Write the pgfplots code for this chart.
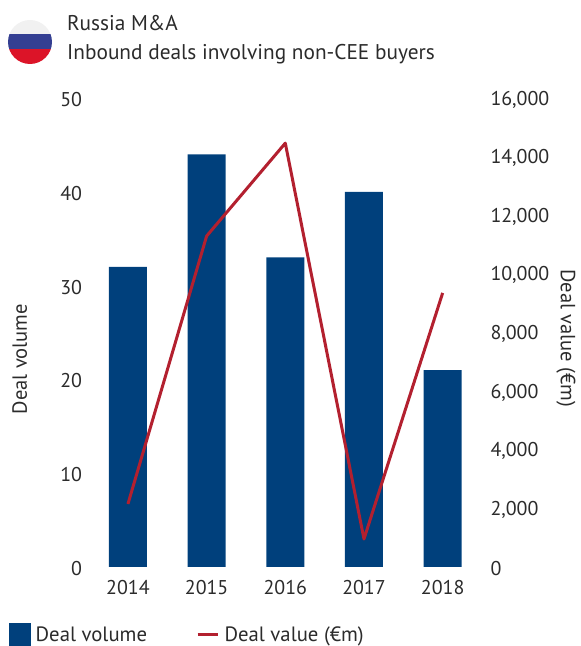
\documentclass[border=0pt]{standalone}
\usepackage{fontspec}
\setmainfont{PT Sans}
\usepackage{pgfplots}
\pgfplotsset{compat=1.18}
\definecolor{barblue}{HTML}{00407C}
\definecolor{linered}{HTML}{B3202F}
\definecolor{txt}{HTML}{2B2B2B}
\definecolor{flagblue}{HTML}{343F92}
\definecolor{flagred}{HTML}{DC1428}
\definecolor{flagwhite}{HTML}{F1F1F1}
\pgfplotsset{
  base/.style={
    at={(88.6bp,79bp)}, anchor=south west,
    scale only axis, width=393.4bp, height=469bp,
    xmin=-0.5, xmax=4.5,
    axis line style={draw=none},
    tick style={draw=none},
    ticklabel style={font=\fontsize{20}{22}\selectfont, text=txt},
    label style={font=\fontsize{20.6}{22}\selectfont, text=txt},
    /pgf/number format/assume math mode=true,
    /pgf/number format/1000 sep={,},
    clip=false,
  }
}
\begin{document}
\begin{tikzpicture}
\useasboundingbox (0,0) rectangle (581bp,646bp);
% flag
\begin{scope}
  \clip (30bp,604bp) circle (22bp);
  \fill[flagwhite] (8bp,611bp) rectangle (52bp,626bp);
  \fill[flagblue] (8bp,597bp) rectangle (52bp,611.5bp);
  \fill[flagred] (8bp,582bp) rectangle (52bp,597bp);
\end{scope}
\node[anchor=base west, inner sep=0pt, text=txt, font=\fontsize{21.4}{24}\selectfont] at (67bp,615bp) {Russia M\&A};
\node[anchor=base west, inner sep=0pt, text=txt, font=\fontsize{21.4}{24}\selectfont] at (67bp,586bp) {Inbound deals involving non-CEE buyers};
\begin{axis}[base,
  ymin=0, ymax=50, ytick={0,10,20,30,40,50},
  axis y line*=left,
  axis x line=none,
  yticklabel style={anchor=east, xshift=-3bp, yshift=-1.5bp},
  ylabel={Deal volume},
  ylabel style={at={(rel axis cs:-0.175,0.443)}, anchor=center, rotate=0},
]
\addplot[ybar, bar width=38bp, bar shift=0pt, fill=barblue, draw=none] coordinates {
  (0,32) (1,44) (2,33) (3,40) (4,21)
};
\end{axis}
\begin{axis}[base,
  ymin=0, ymax=16000, ytick={0,2000,...,16000},
  scaled y ticks=false,
  axis y line*=right,
  xtick={0,1,2,3,4},
  xticklabels={2014,2015,2016,2017,2018},
  axis x line*=bottom,
  xticklabel style={yshift=-10bp},
  yticklabel style={anchor=west, xshift=5bp, yshift=-1.5bp},
  ylabel={Deal value (€m)},
  ylabel style={at={(rel axis cs:1.2135,0.488)}, anchor=center, rotate=180},
  legend columns=2,
  legend style={at={(-80bp,-67.5bp)}, anchor=west, draw=none, fill=none, inner sep=0pt,
    font=\fontsize{20.8}{22}\selectfont, text=txt,
    /tikz/every odd column/.append style={column sep=3.5bp},
    /tikz/every even column/.append style={column sep=47bp}},
]
\addlegendimage{legend image code/.code={\fill[barblue] (0bp,-11bp) rectangle (21bp,11bp);}}
\addlegendentry{Deal volume}
\addplot[linered, line width=3bp, line join=round,
  legend image code/.code={\draw[linered, line width=3bp] (0bp,0bp) -- (20bp,0bp);}] coordinates {
  (0,2150) (1,11290) (2,14460) (3,955) (4,9350)
};
\addlegendentry{Deal value (€m)}
\end{axis}
\end{tikzpicture}
\end{document}
